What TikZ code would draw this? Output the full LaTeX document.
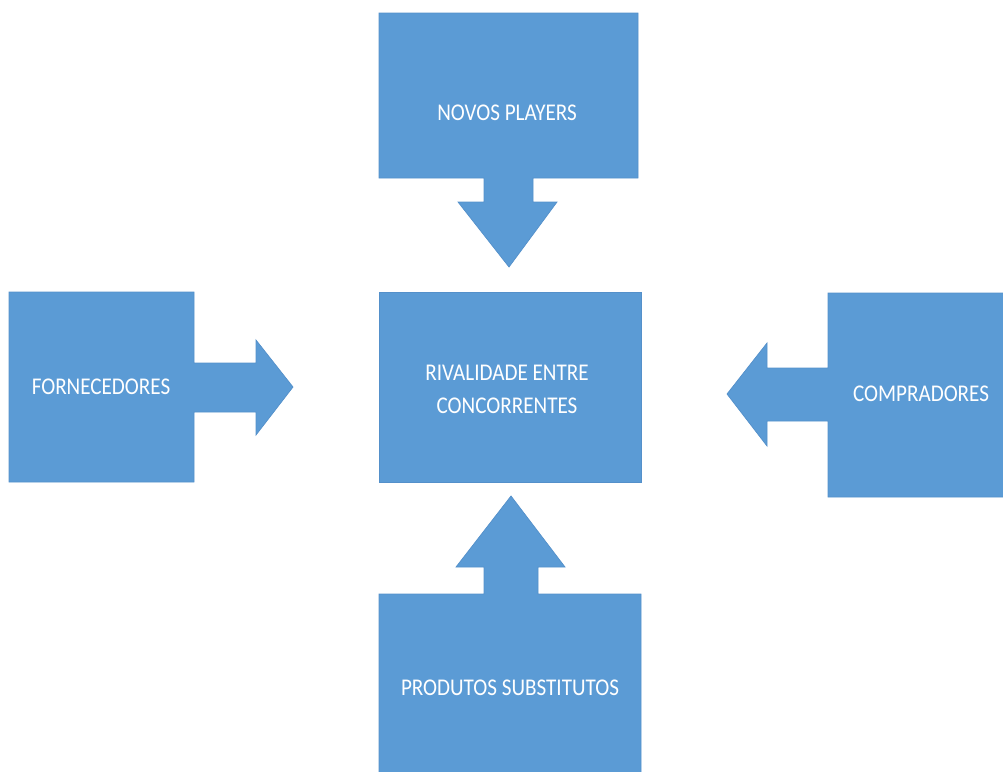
\documentclass[tikz,border=0pt]{standalone}
\usepackage{fontspec}
\newfontfamily\lblfont[FakeStretch=0.88]{Carlito}
\definecolor{boxblue}{HTML}{5B9BD5}
\definecolor{edgeblue}{HTML}{5490CA}
\tikzset{
  force/.style={fill=boxblue, draw=edgeblue, line width=0.7pt, line join=miter},
  lbl/.style={text=white, font=\lblfont\fontsize{24}{33}\selectfont, align=center, inner sep=0pt}
}
\begin{document}
\begin{tikzpicture}[x=1pt,y=-1pt]
\useasboundingbox (0,0) rectangle (1003,771);
\clip (0,0) rectangle (1003,771);
% top: novos players
\path[force] (379,13) -- (638,13) -- (638,178) -- (533,178) -- (533,202) -- (557,202) -- (509,267) -- (458,202) -- (484,202) -- (484,178) -- (379,178) -- cycle;
% left: fornecedores
\path[force] (9,292) -- (194,292) -- (194,363) -- (256,363) -- (256,340) -- (293,387) -- (256,435) -- (256,412) -- (194,412) -- (194,482) -- (9,482) -- cycle;
% right: compradores
\path[force] (1020,293) -- (828,293) -- (828,368) -- (767,368) -- (767,343) -- (727,394) -- (767,446) -- (767,421) -- (828,421) -- (828,497) -- (1020,497) -- cycle;
% bottom: produtos substitutos
\path[force] (379,594) -- (484,594) -- (484,567) -- (456,567) -- (511,496) -- (565,567) -- (538,567) -- (538,594) -- (641,594) -- (641,800) -- (379,800) -- cycle;
% center
\path[force] (379,292) rectangle (641,482);
% labels
\node[lbl] (novos) at (507,113) {NOVOS PLAYERS};
\node[lbl] (forn) at (101,387) {FORNECEDORES};
\node[lbl] (comp) at (921,394) {COMPRADORES};
\node[lbl] (prod) at (510,688) {PRODUTOS SUBSTITUTOS};
\node[lbl] (riv) at (507,389) {RIVALIDADE ENTRE\\CONCORRENTES};
\end{tikzpicture}
\end{document}
